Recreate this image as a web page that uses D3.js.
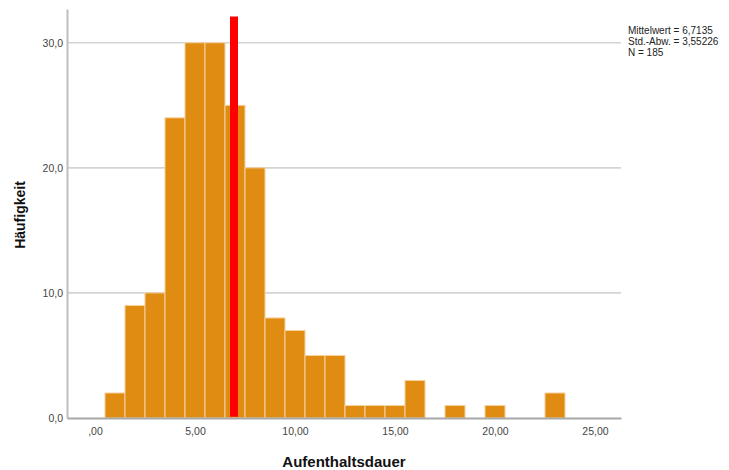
<!DOCTYPE html>
<html>
<head>
<meta charset="utf-8">
<script src="https://cdn.jsdelivr.net/npm/d3@7"></script>
<style>
  html, body { margin: 0; padding: 0; background: #fff; }
  svg { display: block; font-family: "Liberation Sans", Arial, sans-serif; }
</style>
</head>
<body>
<svg id="chart" width="729" height="470"></svg>
<script>
// Histogram bins (class width 1, lower bounds) and their counts
const binStarts = [0.5, 1.5, 2.5, 3.5, 4.5, 5.5, 6.5, 7.5, 8.5, 9.5, 10.5, 11.5,
                   12.5, 13.5, 14.5, 15.5, 16.5, 17.5, 18.5, 19.5, 20.5, 21.5, 22.5];
const counts    = [2, 9, 10, 24, 30, 30, 25, 20, 8, 7, 5, 5,
                   1, 1, 1, 3, 0, 1, 0, 1, 0, 0, 2];
const binWidth = 1;

// Axis ticks
const xTicks = [0, 5, 10, 15, 20, 25];
const yTicks = [0, 10, 20, 30];

// Reference line and summary statistics
const referenceValue = 6.95;
const referenceTop = 32.1;
const statLines = ["Mittelwert = 6,7135", "Std.-Abw. = 3,55226", "N = 185"];

const xTitle = "Aufenthaltsdauer";
const yTitle = "Häufigkeit";

const svg = d3.select("#chart");

const x = d3.scaleLinear().domain([-1.4, 26.3]).range([67, 621]);
const y = d3.scaleLinear().domain([0, 32.7]).range([418, 9]);

const fmtX = v => v === 0 ? ",00" : d3.format(".2f")(v).replace(".", ",");
const fmtY = v => d3.format(".1f")(v).replace(".", ",");

// Horizontal gridlines
svg.append("g")
  .selectAll("line")
  .data(yTicks.filter(t => t > 0))
  .join("line")
  .attr("x1", x.range()[0]).attr("x2", x.range()[1])
  .attr("y1", d => y(d)).attr("y2", d => y(d))
  .attr("stroke", "#d4d4d4").attr("stroke-width", 1.6);

// Bars
const bins = binStarts.map((s, i) => ({ x0: s, x1: s + binWidth, n: counts[i] }))
  .filter(d => d.n > 0);
svg.append("g")
  .selectAll("rect")
  .data(bins)
  .join("rect")
  .attr("x", d => x(d.x0))
  .attr("width", d => x(d.x1) - x(d.x0))
  .attr("y", d => y(d.n))
  .attr("height", d => y(0) - y(d.n))
  .attr("fill", "#e08b12")
  .attr("stroke", "#f6d29e")
  .attr("stroke-width", 1);

// Reference line
svg.append("rect")
  .attr("x", x(referenceValue) - 4)
  .attr("width", 8)
  .attr("y", y(referenceTop))
  .attr("height", y(0.1) - y(referenceTop))
  .attr("fill", "#ff0000");

// Y axis
const yAxis = d3.axisLeft(y).tickValues(yTicks).tickFormat(fmtY).tickSize(0).tickPadding(4);
const gy = svg.append("g").attr("transform", `translate(${x.range()[0]},0)`).call(yAxis);
gy.select(".domain").attr("stroke", "#bdbdbd").attr("stroke-width", 2);
gy.selectAll("text").attr("font-size", 10.5).attr("fill", "#444").attr("font-family", "Liberation Sans, Arial, sans-serif");

// X axis (baseline)
const xAxis = d3.axisBottom(x).tickValues(xTicks).tickFormat(fmtX).tickSize(0).tickPadding(10);
const gx = svg.append("g").attr("transform", `translate(0,${y(0)})`).call(xAxis);
gx.select(".domain").attr("stroke", "#a8a8a8").attr("stroke-width", 2);
gx.selectAll("text").attr("font-size", 10.5).attr("fill", "#444").attr("font-family", "Liberation Sans, Arial, sans-serif");

// Axis titles
svg.append("text")
  .attr("x", 344).attr("y", 467)
  .attr("text-anchor", "middle")
  .attr("font-size", 15).attr("font-weight", "bold").attr("fill", "#111")
  .text(xTitle);

svg.append("text")
  .attr("transform", "translate(25,215) rotate(-90)")
  .attr("text-anchor", "middle")
  .attr("font-size", 14).attr("font-weight", "bold").attr("fill", "#111")
  .text(yTitle);

// Summary statistics
svg.append("g")
  .selectAll("text")
  .data(statLines)
  .join("text")
  .attr("x", 628)
  .attr("y", (d, i) => 34 + i * 11)
  .attr("font-size", 10).attr("fill", "#222")
  .text(d => d);
</script>
</body>
</html>
